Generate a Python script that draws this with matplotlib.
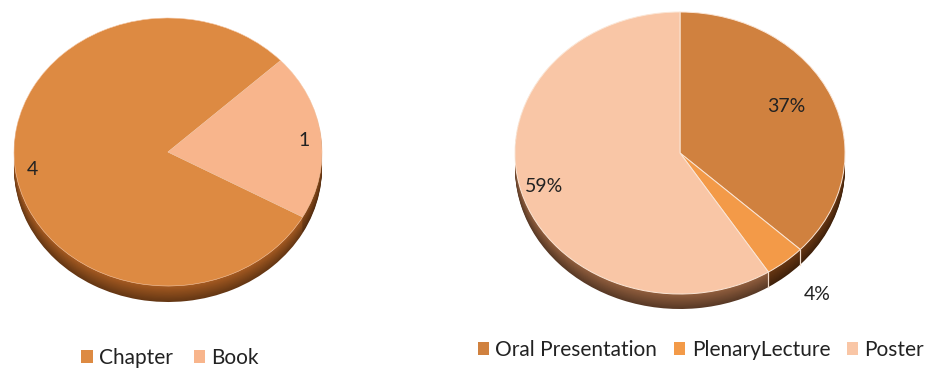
import matplotlib
matplotlib.use("Agg")
import matplotlib.pyplot as plt
import numpy as np
from matplotlib.colors import to_rgb

W, H = 933, 372
plt.rcParams['font.family'] = ['Lato', 'DejaVu Sans']

# ---- data ----
pub_labels = ["Chapter", "Book"]
pub_values = [4, 1]
pub_colors = ["#DD8A42", "#F8B58C"]

pres_labels = ["Oral Presentation", "Plenary Lecture", "Poster"]
pres_legend = ["Oral Presentation", "PlenaryLecture", "Poster"]
pres_values = [37, 4, 59]
pres_colors = ["#D0813F", "#F39A48", "#F9C6A6"]

fig = plt.figure(figsize=(W / 100, H / 100), dpi=100)
fig.patch.set_facecolor("white")


def px_axes(cx, cy, rx, ry, depth):
    left = cx - rx
    top = cy - ry
    w = 2 * rx
    h = 2 * ry + depth
    ax = fig.add_axes([left / W, 1 - (top + h) / H, w / W, h / H])
    return ax


def mix(c, t, target=(0, 0, 0)):
    c = np.array(to_rgb(c))
    return tuple(c * (1 - t) + np.array(target) * t)


def draw_pie(ax, values, colors, side_colors, startangle, counterclock, d, edge):
    n = 14
    for k in range(n, 0, -1):
        off = -d * k / n
        t = k / n
        cols = [mix(c, 0.4 * t) for c in side_colors]
        ax.pie(values, colors=cols, startangle=startangle, counterclock=counterclock,
               center=(0, off), radius=1, wedgeprops=dict(linewidth=0))
    wedges, _ = ax.pie(values, colors=colors, startangle=startangle,
                       counterclock=counterclock, center=(0, 0), radius=1,
                       wedgeprops=dict(linewidth=edge[0], edgecolor=edge[1]))
    ax.set_aspect("auto")
    ax.set_xlim(-1.0, 1.0)
    ax.set_ylim(-1 - d, 1.0)
    ax.axis("off")
    return wedges


# ---- left pie ----
cxL, cyL, rxL, ryL, depL = 168, 152, 154, 134, 16
axL = px_axes(cxL, cyL, rxL, ryL, depL)
dL = depL / ryL
wL = draw_pie(axL, pub_values, pub_colors, ["#A85C22", "#8A4A1A"], 43, True, dL,
              (0.4, "#F6C9A8"))
for w, v in zip(wL, pub_values):
    a = np.deg2rad((w.theta1 + w.theta2) / 2)
    axL.text(0.89 * np.cos(a), 0.89 * np.sin(a) - 0.02, str(v), ha="center", va="center",
             fontsize=14, color="#222222")

# ---- right pie ----
cxR, cyR, rxR, ryR, depR = 680, 153, 165, 141, 15
axR = px_axes(cxR, cyR, rxR, ryR, depR)
dR = depR / ryR
wR = draw_pie(axR, pres_values, pres_colors, ["#6A3813", "#6A3813", "#94603F"], 90, False, dR,
              (0.7, "#FBE6D6"))
# boundary lines on side
for w in wR:
    for th in (w.theta1, w.theta2):
        a = np.deg2rad(th)
        if np.sin(a) < -0.05:
            x, y = np.cos(a), np.sin(a)
            axR.plot([x, x], [y, y - dR], color="#F2DCCB", lw=0.8)
dist = [0.7, 1.3, 0.86]
for w, v, r in zip(wR, pres_values, dist):
    a = np.deg2rad((w.theta1 + w.theta2) / 2)
    axR.text(r * np.cos(a), r * np.sin(a) + (0.05 if r < 0.8 else 0), f"{v}%", ha="center",
             va="center", fontsize=14, color="#222222", clip_on=False)

# ---- legends ----
legL = fig.legend(wL, pub_labels, loc="center", bbox_to_anchor=(170 / W, 1 - 358 / H),
                  ncol=2, frameon=False, fontsize=15, handlelength=0.55, handleheight=0.55,
                  handletextpad=0.3, columnspacing=1.0, labelcolor="#222222")
legR = fig.legend(wR, pres_legend, loc="center", bbox_to_anchor=(701 / W, 1 - 350 / H),
                  ncol=3, frameon=False, fontsize=15, handlelength=0.55, handleheight=0.55,
                  handletextpad=0.3, columnspacing=0.8, labelcolor="#222222")
for leg in (legL, legR):
    for h in leg.legend_handles:
        h.set_linewidth(0)

fig.savefig("out.png", dpi=100, facecolor="white")
